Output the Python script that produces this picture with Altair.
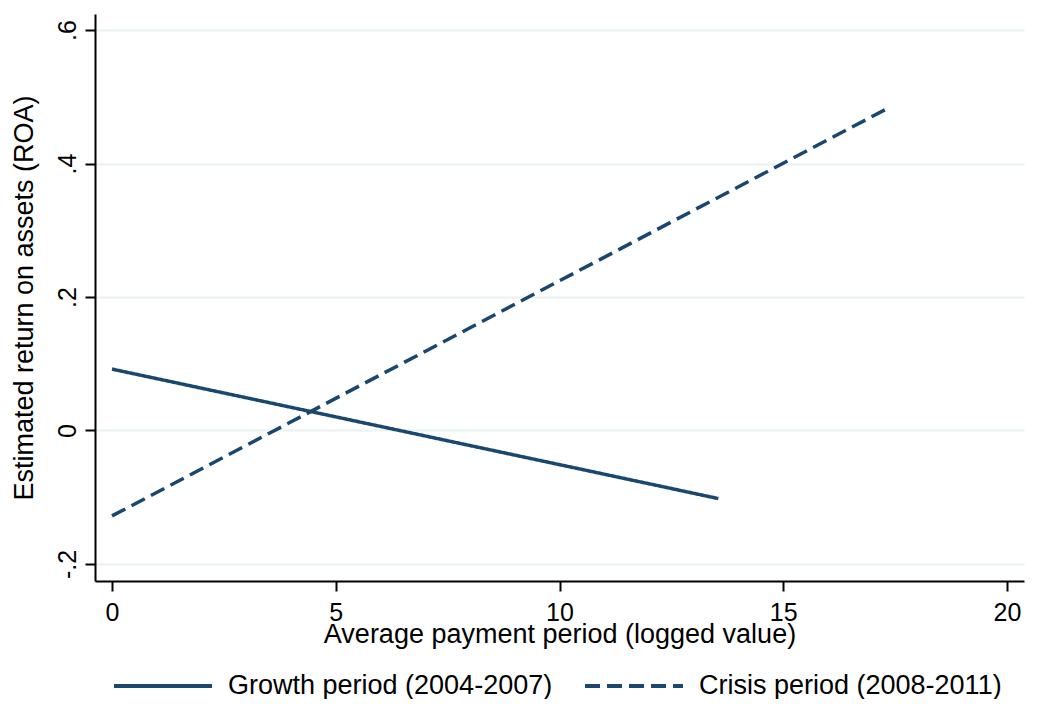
import altair as alt
import pandas as pd

# ---- data ----
series = ["Growth period (2004-2007)", "Crisis period (2008-2011)"]
growth_x = [0.0, 13.55]
growth_y = [0.092, -0.102]
crisis_x = [0.0, 17.4]
crisis_y = [-0.128, 0.485]
x_ticks = [0, 5, 10, 15, 20]
y_ticks = [-0.2, 0.0, 0.2, 0.4, 0.6]
y_tick_labels = ["-.2", "0", ".2", ".4", ".6"]

rows = []
for xv, yv in zip(growth_x, growth_y):
    rows.append({"x": xv, "y": yv, "series": series[0]})
for xv, yv in zip(crisis_x, crisis_y):
    rows.append({"x": xv, "y": yv, "series": series[1]})
df = pd.DataFrame(rows)

label_expr = " : ".join(
    f"abs(datum.value - ({v})) < 1e-6 ? '{l}'" for v, l in zip(y_ticks, y_tick_labels)
) + " : ''"

FONT = "Liberation Sans"
NAVY = "#1a476f"

chart = (
    alt.Chart(df)
    .mark_line(strokeWidth=3.5, color=NAVY)
    .encode(
        x=alt.X(
            "x:Q",
            scale=alt.Scale(domain=[-0.38, 20.38], nice=False, zero=False),
            axis=alt.Axis(
                values=x_ticks,
                title="Average payment period (logged value)",
                grid=False,
                labelFontSize=25,
                labelBaseline="alphabetic",
                labelPadding=29,
                titleFontSize=27,
                titleBaseline="alphabetic",
                titleY=61,
            ),
        ),
        y=alt.Y(
            "y:Q",
            scale=alt.Scale(domain=[-0.2255, 0.624], nice=False, zero=False),
            axis=alt.Axis(
                values=y_ticks,
                labelExpr=label_expr,
                title="Estimated return on assets (ROA)",
                grid=True,
                gridColor="#eaf2f3",
                gridWidth=2,
                labelFontSize=25,
                labelAngle=270,
                labelAlign="center",
                labelBaseline="alphabetic",
                labelPadding=10,
                titleFontSize=27,
                titleBaseline="alphabetic",
                titleX=-63,
            ),
        ),
        strokeDash=alt.StrokeDash(
            "series:N",
            scale=alt.Scale(domain=series, range=[[1, 0], [15, 7]]),
            legend=alt.Legend(
                title=None,
                orient="none",
                legendX=17,
                legendY=621,
                direction="horizontal",
                symbolType="stroke",
                symbolSize=9604,
                symbolStrokeWidth=4,
                symbolStrokeColor=NAVY,
                labelFontSize=27,
                labelFont=FONT,
                labelColor="black",
                labelOffset=14,
                columnPadding=24,
                padding=0,
                labelLimit=400,
            ),
        ),
    )
    .properties(
        width=929,
        height=567,
        autosize=alt.AutoSizeParams(type="none"),
        padding={"left": 87, "top": 6, "right": 6, "bottom": 118},
        background="white",
    )
    .configure_view(stroke=None)
    .configure_axis(
        labelFont=FONT,
        titleFont=FONT,
        labelColor="black",
        titleColor="black",
        domainColor="black",
        domainWidth=2,
        tickColor="black",
        tickWidth=2,
        tickSize=10,
        titleFontWeight="normal",
        labelOverlap=False,
    )
)

chart.save("out.html", embed_options={"renderer": "svg", "actions": False})
